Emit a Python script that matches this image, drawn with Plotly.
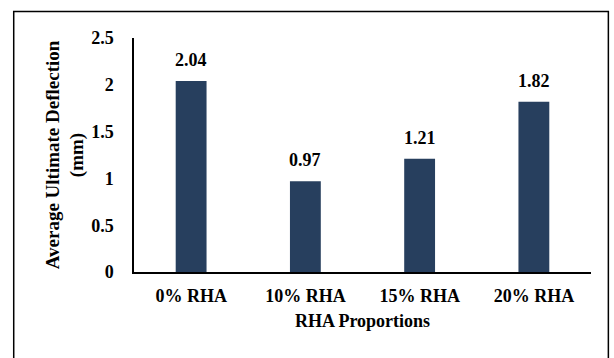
import plotly.graph_objects as go

categories = ["0% RHA", "10% RHA", "15% RHA", "20% RHA"]
values = [2.04, 0.97, 1.21, 1.82]
labels = ["2.04", "0.97", "1.21", "1.82"]
yticks = [0, 0.5, 1, 1.5, 2, 2.5]
ytick_text = ["0", "0.5", "1", "1.5", "2", "2.5"]

FONT = "Liberation Serif"
fig = go.Figure()
fig.add_trace(go.Bar(x=categories, y=values, marker=dict(color="#273F5E", line=dict(width=0)),
                     width=0.27))

for c, v, t in zip(categories, values, labels):
    fig.add_annotation(x=c, y=v, text="<b>%s</b>" % t, showarrow=False, yanchor="bottom",
                       yshift=9, font=dict(family=FONT, size=18, color="black"))

fig.update_layout(
    width=614, height=358,
    margin=dict(l=134, r=23, t=38, b=86),
    paper_bgcolor="white", plot_bgcolor="white",
    showlegend=False,
    font=dict(family=FONT, size=18, color="black"),
    shapes=[dict(type="rect", xref="paper", yref="paper",
                 x0=-0.2632, x1=1.038, y0=-0.5, y1=1.1136,
                 line=dict(color="black", width=1.5), layer="below")],
)
fig.update_xaxes(
    showline=True, linecolor="black", linewidth=1.5, showgrid=False,
    ticks="", tickfont=dict(family=FONT, size=18, color="black"),
    tickprefix="<b>", ticksuffix="</b>", ticklabelstandoff=7,
    title=dict(text="<b>RHA Proportions</b>", font=dict(family=FONT, size=18), standoff=9),
)
fig.update_yaxes(
    range=[0, 2.5], tickmode="array", tickvals=yticks,
    ticktext=["<b>%s</b>" % t for t in ytick_text],
    showline=True, linecolor="black", linewidth=1.5,
    showgrid=False, zeroline=False, ticks="",
    tickfont=dict(family=FONT, size=18, color="black"),
    ticklabelstandoff=15,
    title=dict(text="<b>Average Ultimate Deflection<br>(mm)</b>", font=dict(family=FONT, size=19), standoff=2),
)
fig.write_html("out.html")
